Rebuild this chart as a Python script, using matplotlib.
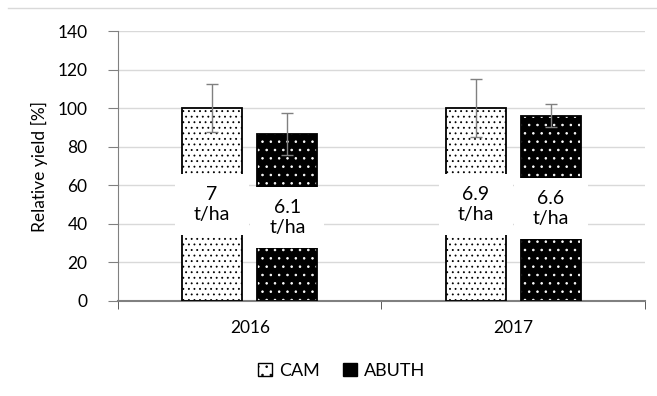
import matplotlib.pyplot as plt
import numpy as np
from matplotlib.patches import Patch, Rectangle
from matplotlib.lines import Line2D

plt.rcParams['font.family'] = ['Lato', 'DejaVu Sans']
plt.rcParams['hatch.linewidth'] = 0.6

years = ["2016", "2017"]
cam = [100, 100]
cam_err = [12.5, 15]
abuth = [86.5, 96]
abuth_err = [11, 6]
cam_lbl = ["7\nt/ha", "6.9\nt/ha"]
abuth_lbl = ["6.1\nt/ha", "6.6\nt/ha"]

fig = plt.figure(figsize=(6.57, 3.96), dpi=100)
ax = fig.add_axes([0.1796, 0.2399, 0.8021, 0.6818])

x = np.arange(len(years))
w = 0.228
off = 0.143

# CAM: white with black dots
ax.bar(x - off, cam, w, color='white', edgecolor='black', hatch='...', linewidth=0, zorder=2)
ax.bar(x - off, cam, w, fill=False, edgecolor='black', linewidth=1.3, zorder=3)
# ABUTH: black with white dots
ax.bar(x + off, abuth, w, color='black', edgecolor='white', hatch='..', linewidth=0, zorder=2)
ax.bar(x + off, abuth, w, fill=False, edgecolor='black', linewidth=1.3, zorder=3)

ax.errorbar(x - off, cam, yerr=cam_err, fmt='none', ecolor='#808080', elinewidth=1,
            capsize=4, capthick=1, zorder=4)
ax.errorbar(x + off, abuth, yerr=abuth_err, fmt='none', ecolor='#808080', elinewidth=1,
            capsize=4, capthick=1, zorder=4)

# labels in the middle of the bars, on a white box
bw = 0.281
bh = 32
for i in range(len(years)):
    for xc, v, t in [(x[i] - off, cam[i], cam_lbl[i]), (x[i] + off, abuth[i], abuth_lbl[i])]:
        ax.add_patch(Rectangle((xc - bw / 2, v / 2 - bh / 2), bw, bh, facecolor='white',
                               edgecolor='none', zorder=5))
        ax.text(xc, v / 2, t, ha='center', va='center', fontsize=14,
                linespacing=1.25, zorder=6)

ax.set_xlim(-0.5, 1.5)
ax.set_ylim(0, 140)
ax.set_yticks(range(0, 141, 20))
ax.set_xticks(x)
ax.set_xticklabels(years)
ax.set_xticks([-0.5, 0.5, 1.5], minor=True)
ax.tick_params(axis='x', which='major', length=0, labelsize=12.5, pad=14)
ax.tick_params(axis='x', which='minor', length=6, color='#404040')
ax.tick_params(axis='y', length=7, color='#808080', labelsize=12.5, pad=15)
ax.set_ylabel("Relative yield [%]", fontsize=12.5, labelpad=7)

ax.yaxis.grid(True, color='#d9d9d9', linewidth=1, zorder=0)
ax.set_axisbelow(True)
for s in ['top', 'right']:
    ax.spines[s].set_visible(False)
ax.spines['left'].set_color('#808080')
ax.spines['bottom'].set_color('#808080')
ax.spines['bottom'].set_linewidth(1.5)

# thin border line across the top of the chart
fig.add_artist(Line2D([0.012, 1.0], [0.98, 0.98], color='#d9d9d9', linewidth=1,
                      transform=fig.transFigure))

handles = [Patch(facecolor='white', edgecolor='black', hatch='..', label='CAM'),
           Patch(facecolor='black', edgecolor='black', label='ABUTH')]
fig.legend(handles=handles, loc='center', bbox_to_anchor=(0.52, 0.063), ncol=2,
           frameon=False, fontsize=13, handlelength=0.75, handleheight=0.75,
           handletextpad=0.4, columnspacing=1.3)

plt.savefig("out.png", dpi=100)
